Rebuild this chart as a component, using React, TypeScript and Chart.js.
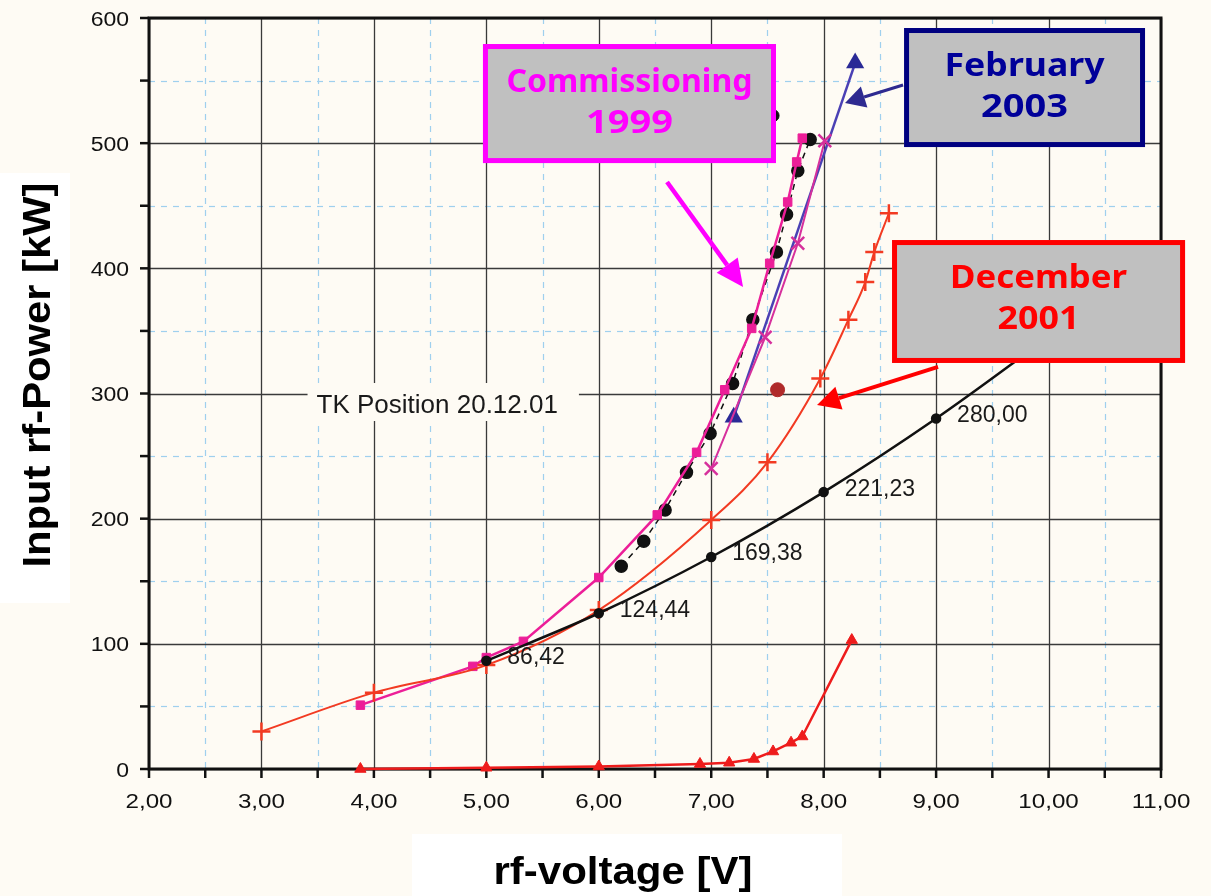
import { useEffect, useRef } from 'react';
import { Chart, registerables } from 'chart.js';

Chart.register(...registerables);

// Input rf-power [kW] versus rf-voltage [V]

// Calculated characteristic, values written next to its points
const calcVoltage = [5.0, 6.0, 7.0, 8.0, 9.0, 10.0];
const calcPower = [86.42, 124.44, 169.38, 221.23, 280.0, 345];
const calcLabels = ['86,42', '124,44', '169,38', '221,23', '280,00', ''];

// December 2001 measurement (red, crosses)
const dec2001Voltage = [3.0, 4.0, 5.0, 6.0, 7.0, 7.5, 7.97, 8.22, 8.37, 8.45, 8.58];
const dec2001Power = [30, 61, 83, 127, 199, 245, 312, 359, 389, 413, 444];

// Low-power curve (red, triangles)
const lowVoltage = [3.88, 5.0, 6.0, 6.9, 7.16, 7.38, 7.55, 7.71, 7.81, 8.25];
const lowPower = [0, 1, 2, 4, 5, 8, 14, 21, 26, 103];

// Commissioning 1999 (magenta, squares)
const comm1999Voltage = [3.88, 4.88, 5.0, 5.33, 6.0, 6.52, 6.87, 7.12, 7.36, 7.52, 7.68, 7.76, 7.81];
const comm1999Power = [51, 82, 89, 102, 153, 203, 253, 303, 352, 404, 453, 485, 504];

// Commissioning 1999, second run (black dots, dashed)
const runBVoltage = [6.2, 6.4, 6.59, 6.78, 6.99, 7.19, 7.37, 7.58, 7.67, 7.77, 7.88];
const runBPower = [162, 182, 207, 237, 268, 308, 359, 413, 443, 478, 503];

// Magenta crosses
const runCVoltage = [7.0, 7.48, 7.77, 8.01];
const runCPower = [240, 345, 420, 502];

// February 2003 (blue, triangles)
const feb2003Voltage = [7.2, 8.28];
const feb2003Power = [281, 564];

// TK position 20.12.01
const tkVoltage = [7.59];
const tkPower = [303];

// Single point at the edge of the commissioning note
const edgeVoltage = [7.55];
const edgePower = [522];

// Axis ticks
const xTickValues = [2, 3, 4, 5, 6, 7, 8, 9, 10, 11];
const xTickLabels = ['2,00', '3,00', '4,00', '5,00', '6,00', '7,00', '8,00', '9,00', '10,00', '11,00'];
const yTickValues = [0, 100, 200, 300, 400, 500, 600];
const yTickLabels = ['0', '100', '200', '300', '400', '500', '600'];

// Note boxes (data coordinates of their outer edges)
const notes = [
  { lines: ['Commissioning', '1999'], widths: [246, 87], x0: 4.97, x1: 7.576, y0: 579.2, y1: 484.1, color: '#ff00ff', text: '#ff00ff' },
  { lines: ['February', '2003'], widths: [160, 87], x0: 8.715, x1: 10.858, y0: 592.0, y1: 496.9, color: '#000080', text: '#000099' },
  { lines: ['December', '2001'], widths: [177, 82], x0: 8.608, x1: 11.214, y0: 422.6, y1: 324.4, color: '#ff0000', text: '#ff0000' },
];

// Pointer arrows: tail -> tip in data coordinates
const arrows = [
  { from: [6.607, 469.0], to: [7.283, 385.1], color: '#ff00ff', width: 4.5, head: 27, half: 13 },
  { from: [8.706, 546.5], to: [8.19, 532.1], color: '#2e2a90', width: 3, head: 20, half: 11 },
  { from: [9.017, 321.2], to: [7.941, 290.8], color: '#ff0000', width: 4, head: 23, half: 12 },
];

const tkLabel = { text: 'TK Position 20.12.01', x: 3.49, y: 292.4 };

const BG = '#fefbf4';

const toXY = (xs: number[], ys: number[]) => xs.map((x, i) => ({ x, y: ys[i] }));

function fitText(ctx: CanvasRenderingContext2D, text: string, cx: number, baseline: number, width: number, font: string, color: string) {
  ctx.save();
  ctx.font = font;
  const w = ctx.measureText(text).width;
  ctx.translate(cx, baseline);
  ctx.scale(width / w, 1);
  ctx.textAlign = 'center';
  ctx.textBaseline = 'alphabetic';
  ctx.fillStyle = color;
  ctx.fillText(text, 0, 0);
  ctx.restore();
}

const paperPlugin = {
  id: 'paper',
  beforeDraw(chart: any) {
    const { ctx, width, height } = chart;
    ctx.save();
    ctx.fillStyle = BG;
    ctx.fillRect(0, 0, width, height);
    ctx.fillStyle = '#ffffff';
    ctx.fillRect(0, 173, 70, 430);
    ctx.fillRect(412, 834, 430, 62);
    ctx.restore();
  },
  beforeDatasetsDraw(chart: any) {
    const { ctx } = chart;
    const xs = chart.scales.x;
    const ys = chart.scales.y;
    const { left, right, top, bottom } = chart.chartArea;
    ctx.save();
    // dashed minor grid
    ctx.strokeStyle = '#9fd0ee';
    ctx.lineWidth = 1.2;
    ctx.setLineDash([6, 6]);
    for (let i = 1; i < 18; i += 2) {
      const px = Math.round(xs.getPixelForValue(2 + i * 0.5)) + 0.5;
      ctx.beginPath();
      ctx.moveTo(px, top);
      ctx.lineTo(px, bottom);
      ctx.stroke();
    }
    for (let i = 1; i < 12; i += 2) {
      const py = Math.round(ys.getPixelForValue(i * 50)) + 0.5;
      ctx.beginPath();
      ctx.moveTo(left, py);
      ctx.lineTo(right, py);
      ctx.stroke();
    }
    // solid major grid
    ctx.setLineDash([]);
    ctx.strokeStyle = '#3a3a3a';
    ctx.lineWidth = 1.3;
    xTickValues.forEach((v) => {
      const px = Math.round(xs.getPixelForValue(v)) + 0.5;
      ctx.beginPath();
      ctx.moveTo(px, top);
      ctx.lineTo(px, bottom);
      ctx.stroke();
    });
    yTickValues.forEach((v) => {
      const py = Math.round(ys.getPixelForValue(v)) + 0.5;
      ctx.beginPath();
      ctx.moveTo(left, py);
      ctx.lineTo(right, py);
      ctx.stroke();
    });
    // frame
    ctx.strokeStyle = '#111';
    ctx.lineWidth = 3;
    ctx.strokeRect(left, top, right - left, bottom - top);
    // tick marks
    ctx.lineWidth = 2.5;
    for (let i = 0; i <= 18; i++) {
      const px = xs.getPixelForValue(2 + i * 0.5);
      ctx.beginPath();
      ctx.moveTo(px, bottom);
      ctx.lineTo(px, bottom + 9);
      ctx.stroke();
    }
    for (let i = 0; i <= 12; i++) {
      const py = ys.getPixelForValue(i * 50);
      ctx.beginPath();
      ctx.moveTo(left - 9, py);
      ctx.lineTo(left, py);
      ctx.stroke();
    }
    // tick labels
    ctx.fillStyle = '#111';
    ctx.font = '20px "Liberation Sans", Arial, sans-serif';
    ctx.textBaseline = 'alphabetic';
    yTickValues.forEach((v, i) => {
      const py = ys.getPixelForValue(v);
      ctx.save();
      ctx.translate(left - 20, py + 7.5);
      ctx.scale(1.15, 1);
      ctx.textAlign = 'right';
      ctx.fillText(yTickLabels[i], 0, 0);
      ctx.restore();
    });
    ctx.font = '21px "Liberation Sans", Arial, sans-serif';
    xTickValues.forEach((v, i) => {
      const px = xs.getPixelForValue(v);
      ctx.save();
      ctx.translate(px, bottom + 39);
      ctx.scale(1.15, 1);
      ctx.textAlign = 'center';
      ctx.fillText(xTickLabels[i], 0, 0);
      ctx.restore();
    });
    // TK position label
    const tx = xs.getPixelForValue(tkLabel.x);
    const ty = ys.getPixelForValue(tkLabel.y);
    ctx.font = '26px "Liberation Sans", Arial, sans-serif';
    const tw = ctx.measureText(tkLabel.text).width;
    ctx.fillStyle = BG;
    ctx.fillRect(tx - 9, ty - 20, tw + 30, 38);
    ctx.fillStyle = '#1a1a1a';
    ctx.textAlign = 'left';
    ctx.fillText(tkLabel.text, tx, ty + 9.5);
    ctx.restore();
  },
  afterDatasetsDraw(chart: any) {
    const { ctx } = chart;
    const xs = chart.scales.x;
    const ys = chart.scales.y;
    ctx.save();
    ctx.fillStyle = '#1a1a1a';
    ctx.font = '23px "Liberation Sans", Arial, sans-serif';
    ctx.textAlign = 'left';
    ctx.textBaseline = 'alphabetic';
    calcVoltage.forEach((v, i) => {
      if (!calcLabels[i]) return;
      const px = xs.getPixelForValue(v);
      const py = ys.getPixelForValue(calcPower[i]);
      ctx.fillText(calcLabels[i], px + 21, py + 3.5);
    });
    ctx.restore();
  },
  afterDraw(chart: any) {
    const { ctx } = chart;
    const xs = chart.scales.x;
    const ys = chart.scales.y;
    ctx.save();
    // arrows
    arrows.forEach((a) => {
      const x1 = xs.getPixelForValue(a.from[0]);
      const y1 = ys.getPixelForValue(a.from[1]);
      const x2 = xs.getPixelForValue(a.to[0]);
      const y2 = ys.getPixelForValue(a.to[1]);
      const ang = Math.atan2(y2 - y1, x2 - x1);
      const bx = x2 - Math.cos(ang) * a.head;
      const by = y2 - Math.sin(ang) * a.head;
      ctx.strokeStyle = a.color;
      ctx.fillStyle = a.color;
      ctx.lineWidth = a.width;
      ctx.beginPath();
      ctx.moveTo(x1, y1);
      ctx.lineTo(bx, by);
      ctx.stroke();
      ctx.beginPath();
      ctx.moveTo(x2, y2);
      ctx.lineTo(bx + Math.sin(ang) * a.half, by - Math.cos(ang) * a.half);
      ctx.lineTo(bx - Math.sin(ang) * a.half, by + Math.cos(ang) * a.half);
      ctx.closePath();
      ctx.fill();
    });
    // note boxes
    notes.forEach((n) => {
      const x0 = xs.getPixelForValue(n.x0);
      const x1 = xs.getPixelForValue(n.x1);
      const y0 = ys.getPixelForValue(n.y0);
      const y1 = ys.getPixelForValue(n.y1);
      ctx.fillStyle = '#c0c0c0';
      ctx.fillRect(x0, y0, x1 - x0, y1 - y0);
      ctx.strokeStyle = n.color;
      ctx.lineWidth = 5;
      ctx.strokeRect(x0 + 2.5, y0 + 2.5, x1 - x0 - 5, y1 - y0 - 5);
      const cx = (x0 + x1) / 2;
      const font = 'bold 33px "Comic Sans MS", "Noto Sans", sans-serif';
      fitText(ctx, n.lines[0], cx, y0 + 48, n.widths[0], font, n.text);
      fitText(ctx, n.lines[1], cx, y0 + 89, n.widths[1], font, n.text);
    });
    // axis titles
    const titleFont = 'bold 38px "Liberation Sans", Arial, sans-serif';
    fitText(ctx, 'rf-voltage [V]', 623, 884, 259, titleFont, '#000');
    ctx.save();
    ctx.translate(50, 375);
    ctx.rotate(-Math.PI / 2);
    fitText(ctx, 'Input rf-Power [kW]', 0, 0, 385, titleFont, '#000');
    ctx.restore();
    ctx.restore();
  },
};

export default function App() {
  const canvasRef = useRef<HTMLCanvasElement | null>(null);

  useEffect(() => {
    const canvas = canvasRef.current;
    if (!canvas) return;
    const red = '#f23a22';
    const magenta = '#ec1e98';
    const chart = new Chart(canvas, {
      type: 'scatter',
      data: {
        datasets: [
          {
            label: 'calculated',
            data: toXY(calcVoltage, calcPower),
            showLine: true,
            borderColor: '#111',
            backgroundColor: '#111',
            borderWidth: 2.5,
            cubicInterpolationMode: 'monotone',
            pointStyle: 'circle',
            pointRadius: [4, 4, 4, 4, 4, 0],
            clip: false,
          },
          {
            label: 'December 2001',
            data: toXY(dec2001Voltage, dec2001Power),
            showLine: true,
            borderColor: red,
            backgroundColor: red,
            borderWidth: 2,
            cubicInterpolationMode: 'monotone',
            pointStyle: 'cross',
            pointRadius: 9,
            pointBorderWidth: 2.5,
            clip: false,
          },
          {
            label: 'low power',
            data: toXY(lowVoltage, lowPower),
            showLine: true,
            borderColor: '#ee1c1c',
            backgroundColor: '#ee1c1c',
            borderWidth: 2.5,
            pointStyle: 'triangle',
            pointRadius: 6.5,
            pointBorderWidth: 1,
            clip: false,
          },
          {
            label: 'Commissioning 1999',
            data: toXY(comm1999Voltage, comm1999Power),
            showLine: true,
            borderColor: magenta,
            backgroundColor: magenta,
            borderWidth: 2.5,
            pointStyle: 'rect',
            pointRadius: 6,
            pointBorderWidth: 1,
            clip: false,
          },
          {
            label: 'run B',
            data: toXY(runBVoltage, runBPower),
            showLine: true,
            borderColor: '#111',
            backgroundColor: '#111',
            borderWidth: 1.5,
            borderDash: [6, 5],
            pointStyle: 'circle',
            pointRadius: 6,
            clip: false,
          },
          {
            label: 'run C',
            data: toXY(runCVoltage, runCPower),
            showLine: true,
            borderColor: '#d6309c',
            backgroundColor: '#d6309c',
            borderWidth: 2,
            pointStyle: 'crossRot',
            pointRadius: 9,
            pointBorderWidth: 2.5,
            clip: false,
          },
          {
            label: 'February 2003',
            data: toXY(feb2003Voltage, feb2003Power),
            showLine: true,
            borderColor: '#4a40b4',
            backgroundColor: '#2a2a96',
            borderWidth: 2.5,
            pointStyle: 'triangle',
            pointRadius: 10.5,
            pointBorderWidth: 0,
            clip: false,
          },
          {
            label: 'TK Position 20.12.01',
            data: toXY(tkVoltage, tkPower),
            showLine: false,
            borderColor: '#b02a2a',
            backgroundColor: '#b02a2a',
            pointStyle: 'circle',
            pointRadius: 7,
            clip: false,
          },
          {
            label: 'edge point',
            data: toXY(edgeVoltage, edgePower),
            showLine: false,
            borderColor: '#111',
            backgroundColor: '#111',
            pointStyle: 'circle',
            pointRadius: 6,
            clip: false,
          },
        ],
      },
      options: {
        animation: false,
        responsive: false,
        events: [],
        layout: { padding: { left: 0, top: 18, right: 50, bottom: 0 } },
        plugins: {
          legend: { display: false },
          tooltip: { enabled: false },
        },
        scales: {
          x: {
            type: 'linear',
            min: 2,
            max: 11,
            grid: { display: false },
            border: { display: false },
            ticks: { display: false, stepSize: 0.5 },
            afterFit: (scale: any) => {
              scale.height = 127;
            },
          },
          y: {
            type: 'linear',
            min: 0,
            max: 600,
            grid: { display: false },
            border: { display: false },
            ticks: { display: false, stepSize: 50 },
            afterFit: (scale: any) => {
              scale.width = 149;
            },
          },
        },
      },
      plugins: [paperPlugin],
    } as any);
    return () => chart.destroy();
  }, []);

  return (
    <div style={{ position: 'fixed', left: 0, top: 0, width: 1211, height: 896, background: '#fff' }}>
      <canvas ref={canvasRef} width={1211} height={896} style={{ width: 1211, height: 896, display: 'block' }} />
    </div>
  );
}
